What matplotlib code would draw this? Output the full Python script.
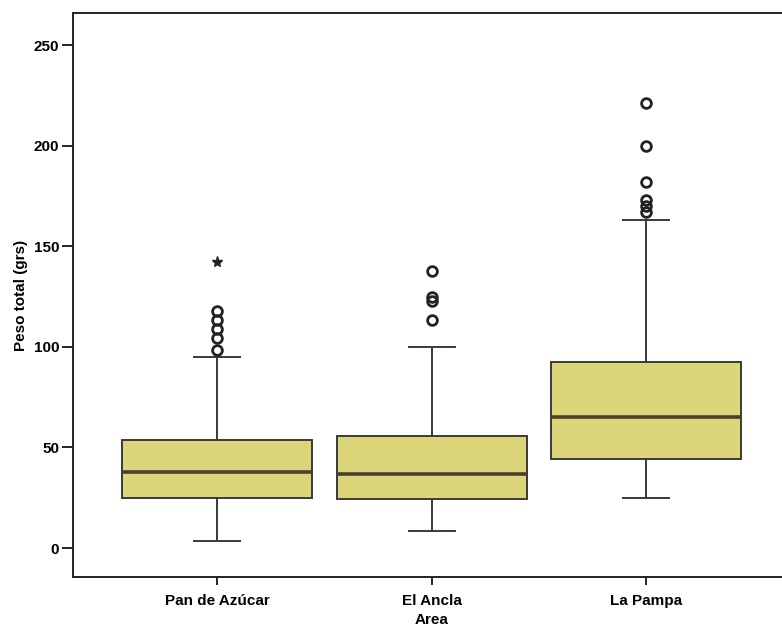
import matplotlib.pyplot as plt

plt.rcParams['font.family'] = ['Liberation Sans', 'DejaVu Sans']
plt.rcParams['font.weight'] = 'bold'

areas = ['Pan de Azúcar', 'El Ancla', 'La Pampa']
q1 = [24.9, 24.2, 44.2]
medians = [37.8, 36.8, 65.0]
q3 = [53.8, 55.5, 92.6]
whislo = [3.5, 8.4, 24.9]
whishi = [95.0, 100.0, 163.0]
outliers = [
    [98.4, 104.2, 108.7, 113.3, 117.8],
    [113.5, 123.0, 125.0, 138.0],
    [167.0, 170.0, 173.0, 182.0, 200.0, 221.5],
]
extremes = [[142.0], [], []]

fill = '#dcd579'
edge = '#3a3a3a'

stats = []
for i, name in enumerate(areas):
    stats.append({
        'label': name, 'q1': q1[i], 'med': medians[i], 'q3': q3[i],
        'whislo': whislo[i], 'whishi': whishi[i], 'fliers': outliers[i],
    })

fig = plt.figure(figsize=(7.82, 6.32), dpi=100)
ax = fig.add_axes([0.0934, 0.087, 0.917, 0.892])

pos = list(range(len(areas)))
ax.bxp(stats, positions=pos, widths=0.886, capwidths=0.215,
       patch_artist=True, showfliers=True,
       boxprops=dict(facecolor=fill, edgecolor=edge, linewidth=1.4),
       medianprops=dict(color='#4a4030', linewidth=2.6),
       whiskerprops=dict(color=edge, linewidth=1.4),
       capprops=dict(color=edge, linewidth=1.4),
       flierprops=dict(marker='o', markersize=7, markerfacecolor='none',
                       markeredgecolor='#222222', markeredgewidth=2))

# extreme values drawn as stars
for p, vals in zip(pos, extremes):
    if vals:
        ax.plot([p] * len(vals), vals, linestyle='none', marker='*',
                markersize=8, color='#222222')

ax.set_xlim(-0.671, 2.671)
ax.set_ylim(-14.4, 265.9)
ax.set_yticks([0, 50, 100, 150, 200, 250])
ax.set_xticks(pos)
ax.set_xticklabels(areas)

for s in ax.spines.values():
    s.set_linewidth(1.4)
    s.set_color('#222222')

ax.tick_params(axis='y', length=8, width=1.2, labelsize=11, pad=2)
ax.tick_params(axis='x', length=6, width=1.2, labelsize=11, pad=6)
ax.set_ylabel('Peso total (grs)', fontsize=11, fontweight='bold', labelpad=4)
ax.set_xlabel('Area', fontsize=11, fontweight='bold', labelpad=4)

fig.savefig('out.png', dpi=100)
